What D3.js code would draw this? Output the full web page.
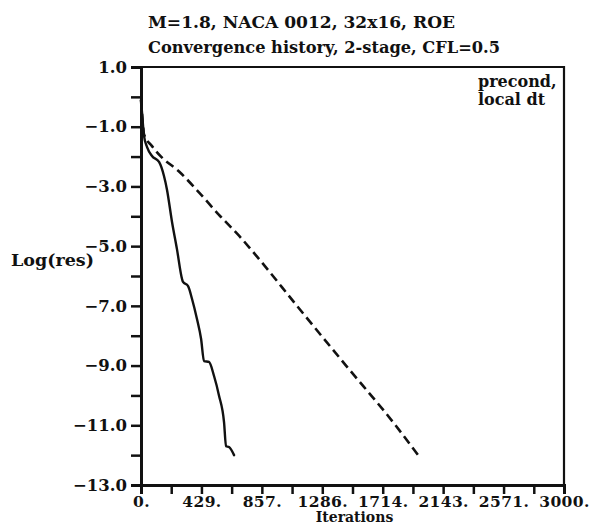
<!DOCTYPE html>
<html>
<head>
<meta charset="utf-8">
<script src="https://cdn.jsdelivr.net/npm/d3@7"></script>
<style>
  html, body { margin: 0; padding: 0; background: #fff; }
  svg text { font-family: "DejaVu Serif", "Liberation Serif", serif; font-weight: bold; fill: #111; }
</style>
</head>
<body>
<svg id="chart" width="593" height="531"></svg>
<script>
// Convergence histories: iteration count vs. log10 of the residual
const iterA   = [0, 15, 21, 43, 78, 128, 163, 184, 220, 255, 291, 298, 333, 362, 397, 426, 447, 482, 518, 553, 589, 603, 624, 660];
const logResA = [-0.1, -1.0, -1.3, -1.68, -1.98, -2.18, -2.65, -3.1, -4.19, -5.1, -6.1, -6.2, -6.33, -6.77, -7.44, -8.1, -8.85, -8.88, -9.35, -10.0, -10.9, -11.7, -11.73, -12.0];

const iterB   = [0, 15, 21, 78, 142, 270, 411, 553, 695, 823, 1106, 1454, 1805, 1965];
const logResB = [-0.1, -1.0, -1.25, -1.65, -2.0, -2.5, -3.2, -3.95, -4.65, -5.35, -7.0, -9.0, -11.0, -12.0];

// Axis ticks: labels on every other tick
const xTickValues = d3.range(15).map(i => i * 3000 / 14);
const xTickLabels = ["0.", "429.", "857.", "1286.", "1714.", "2143.", "2571.", "3000."];
const yTickValues = d3.range(-13, 2, 1);
const yTickLabels = ["−13.0", "−11.0", "−9.0", "−7.0", "−5.0", "−3.0", "−1.0", "1.0"];

const titleLines = ["M=1.8, NACA 0012, 32x16, ROE", "Convergence history, 2-stage, CFL=0.5"];
const titleWidths = [307, 352];
const noteLines  = ["precond,", "local dt"];

const svg = d3.select("#chart");
const plotLeft = 141, plotRight = 564, plotTop = 67, plotBottom = 485;

const x = d3.scaleLinear().domain([0, 3000]).range([plotLeft, plotRight]);
const y = d3.scaleLinear().domain([-13, 1]).range([plotBottom, plotTop]);

// Titles
svg.selectAll("text.title").data(titleLines).join("text")
  .attr("class", "title")
  .attr("x", 148)
  .attr("y", (d, i) => 28 + i * 25)
  .attr("font-size", 17)
  .attr("textLength", (d, i) => titleWidths[i])
  .attr("lengthAdjust", "spacingAndGlyphs")
  .text(d => d);

// Frame: top and right borders
svg.append("path")
  .attr("d", `M${plotLeft},${plotTop}H${plotRight}V${plotBottom}`)
  .attr("fill", "none").attr("stroke", "#111").attr("stroke-width", 2.2);

// X axis
const xAxis = d3.axisBottom(x)
  .tickValues(xTickValues)
  .tickSize(9)
  .tickPadding(2)
  .tickFormat((d, i) => (i % 2 === 0 ? xTickLabels[i / 2] : ""));
const gx = svg.append("g").attr("transform", `translate(0,${plotBottom})`).call(xAxis);
gx.select(".domain").attr("stroke", "#111").attr("stroke-width", 3);
gx.selectAll(".tick line").attr("stroke", "#111").attr("stroke-width", 2.5);
gx.selectAll(".tick text").attr("font-size", 15.5).attr("fill", "#111")
  .style("font-family", "DejaVu Serif").style("font-weight", "bold")
  .style("letter-spacing", "0.4px");

// Y axis
const yAxis = d3.axisLeft(y)
  .tickValues(yTickValues)
  .tickSize(10)
  .tickPadding(4)
  .tickFormat((d, i) => (i % 2 === 0 ? yTickLabels[i / 2] : ""));
const gy = svg.append("g").attr("transform", `translate(${plotLeft},0)`).call(yAxis);
gy.select(".domain").attr("stroke", "#111").attr("stroke-width", 3);
gy.selectAll(".tick line").attr("stroke", "#111").attr("stroke-width", 2.5);
gy.selectAll(".tick text").attr("font-size", 16.5).attr("fill", "#111")
  .style("font-family", "DejaVu Serif").style("font-weight", "bold");

// Axis titles
svg.append("text").attr("x", x(1500) + 2).attr("y", 522)
  .attr("text-anchor", "middle").attr("font-size", 14).text("Iterations");
svg.append("text").attr("x", 11).attr("y", 266)
  .attr("font-size", 17.5).text("Log(res)");

// Annotation in the upper right corner
svg.selectAll("text.note").data(noteLines).join("text")
  .attr("class", "note")
  .attr("x", 478)
  .attr("y", (d, i) => 87 + i * 18)
  .attr("font-size", 16)
  .text(d => d);

// Curves
const line = d3.line()
  .x(d => x(d[0]))
  .y(d => y(d[1]))
  .curve(d3.curveMonotoneX);

svg.append("path")
  .datum(d3.zip(iterA, logResA))
  .attr("d", line)
  .attr("fill", "none").attr("stroke", "#111").attr("stroke-width", 2.4)
  .attr("stroke-linejoin", "round").attr("stroke-linecap", "round");

svg.append("path")
  .datum(d3.zip(iterB, logResB))
  .attr("d", line)
  .attr("fill", "none").attr("stroke", "#111").attr("stroke-width", 2.6)
  .attr("stroke-dasharray", "9,5");
</script>
</body>
</html>
